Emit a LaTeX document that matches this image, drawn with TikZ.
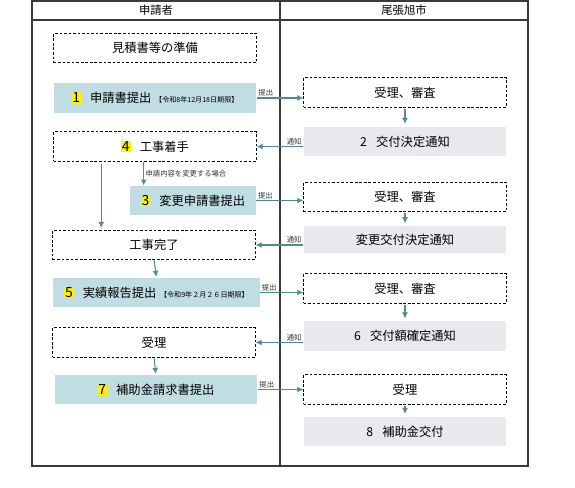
\documentclass[tikz,border=0pt]{standalone}
\usepackage{fontspec}
\setmainfont{Noto Sans CJK JP}
\usepackage{tikz}
\usetikzlibrary{arrows.meta}
\usepackage{xcolor}
\definecolor{sendfill}{HTML}{BFDDE2}
\definecolor{cityfill}{HTML}{EAE8EC}
\definecolor{flowline}{HTML}{4F8A95}
\definecolor{ruleline}{HTML}{3A3A3A}
\newcommand{\hlnum}[1]{{\setlength{\fboxsep}{0.6pt}\colorbox{yellow}{\fontsize{10.5}{11}\selectfont #1}}}
\newcommand{\duenote}[1]{{\fontsize{5.3}{6}\selectfont #1}}

\begin{document}
\begin{tikzpicture}[x=0.75pt,y=-0.75pt,
    box/.style={minimum width=152pt, minimum height=22pt, inner sep=0pt, font=\fontsize{9.2}{10}\selectfont},
    waitbox/.style={box, draw, line width=0.6pt, dash pattern=on 2pt off 1.4pt},
    sendbox/.style={box, fill=sendfill},
    citybox/.style={box, fill=cityfill},
    flow/.style={flowline, line width=0.8pt, -{Latex[length=4.5pt,width=4.5pt]}},
    tag/.style={font=\fontsize{5.5}{6}\selectfont, inner sep=1pt, text=black!80}]
\useasboundingbox (0,0) rectangle (575,488);
\draw[ruleline, line width=0.8pt] (32,1) rectangle (528,466);
\draw[ruleline, line width=0.8pt] (32,20) -- (528,20);
\draw[ruleline, line width=0.8pt] (280,1) -- (280,466);
\node[font=\fontsize{8.5}{9}\selectfont] (head1) at (156,10.5) {申請者};
\node[font=\fontsize{8.5}{9}\selectfont] (head2) at (404,10.5) {尾張旭市};

% 申請者
\node[waitbox] (prep) at (155,48) {見積書等の準備};
\node[sendbox] (s1) at (155,98) {\hlnum{1}\hspace{0.75em}申請書提出\hspace{0.3em}\duenote{【令和8年12月18日期限】}};
\node[waitbox] (s4) at (155,146.5) {\hlnum{4}\hspace{0.75em}工事着手};
\node[sendbox, minimum width=94.5pt] (s3) at (193,200.5) {\hlnum{3}\hspace{0.75em}変更申請書提出};
\node[waitbox] (done) at (154,245) {工事完了};
\node[sendbox, minimum width=155pt] (s5) at (156.5,292.5) {\hlnum{5}\hspace{0.75em}実績報告提出\hspace{0.3em}\duenote{【令和9年２月２６日期限】}};
\node[waitbox] (acc) at (154,342.5) {受理};
\node[sendbox] (s7) at (156,389.5) {\hlnum{7}\hspace{0.75em}補助金請求書提出};

% 尾張旭市
\node[waitbox] (r1) at (405,92.5) {受理、審査};
\node[citybox] (n2) at (405,141.5) {2\hspace{0.75em}交付決定通知};
\node[waitbox] (r2) at (405,197) {受理、審査};
\node[citybox, minimum height=20pt] (n3) at (405,239.5) {変更交付決定通知};
\node[waitbox] (r3) at (405,288.5) {受理、審査};
\node[citybox] (n6) at (405,336) {6\hspace{0.75em}交付額確定通知};
\node[waitbox] (r4) at (405,389.5) {受理};
\node[citybox] (n8) at (405,431.5) {8\hspace{0.75em}補助金交付};

\begin{scope}[flow]
    \draw[shorten <=1pt, shorten >=2pt] (r1.south) -- (n2.north);
    \draw[shorten <=1pt, shorten >=2pt] (r2.south) -- (n3.north);
    \draw[shorten <=1pt, shorten >=2pt] (r3.south) -- (n6.north);
    \draw[shorten <=1pt, shorten >=2pt] (r4.south) -- (n8.north);
    \draw ([xshift=10.5pt]s3.north west |- s4.south) -- ([xshift=10.5pt]s3.north west) node[midway, right, tag] {申請内容を変更する場合};
    \draw[shorten <=2pt, shorten >=1.5pt] ([xshift=36pt]s4.south west) -- ([xshift=36pt]s4.south west |- done.north);
    \draw[shorten >=0.5pt] (done.south) -- (s5.north);
    \draw[shorten >=0.5pt] (acc.south) -- (s7.north);
    \draw (s1.east) -- (s1.east -| r1.west) node[pos=0, above right, tag] {提出};
    \draw (s3.east) -- (s3.east -| r2.west) node[pos=0, above right, tag] {提出};
    \draw (s5.east) -- (s5.east -| r3.west) node[pos=0, above right, tag] {提出};
    \draw (s7.east) -- (s7.east -| r4.west) node[pos=0, above right, tag] {提出};
    \draw (s4.east -| n2.west) -- (s4.east) node[pos=0, above left, tag] {通知};
    \draw (done.east -| n3.west) -- (done.east) node[pos=0, above left, tag] {通知};
    \draw (acc.east -| n6.west) -- (acc.east) node[pos=0, above left, tag] {通知};
\end{scope}
\end{tikzpicture}
\end{document}
